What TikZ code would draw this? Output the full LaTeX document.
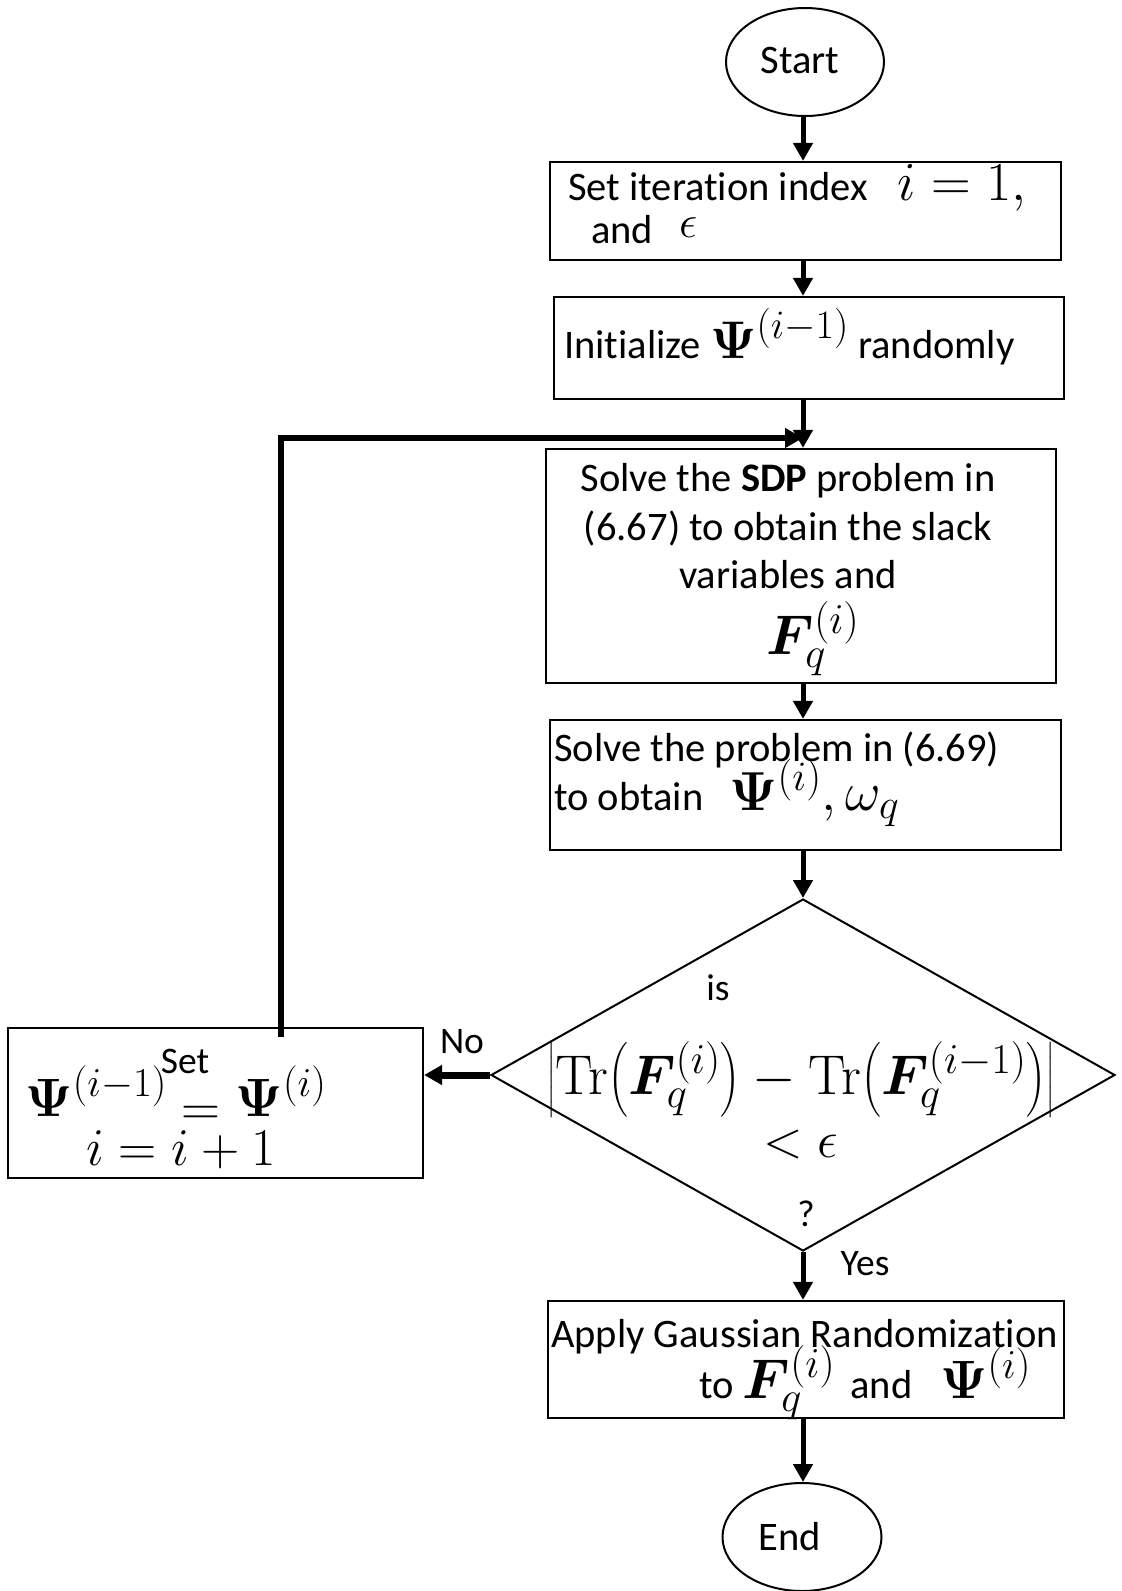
\RequirePackage{fix-cm}
\documentclass[tikz,border=0pt]{standalone}
\usepackage{amsmath,bm}
\usepackage[no-math]{fontspec}
\setmainfont{Carlito}[Ligatures={NoCommon}]
\usetikzlibrary{shapes.geometric,arrows.meta,calc}
% slightly larger sub- and superscripts
\renewcommand*\defaultscriptratio{.76}

\begin{document}
\begin{tikzpicture}[x=1pt,y=-1pt,
  box/.style={draw, rectangle, line width=2.2pt, inner sep=0pt},
  term/.style={draw, ellipse, line width=2pt, inner sep=0pt},
  cond/.style={draw, diamond, line width=2pt, inner sep=0pt},
  conn/.style={line width=5pt, -{Triangle[width=19pt,length=18pt]}},
  txt/.style={inner sep=0pt, font=\fontsize{40.5}{48.7}\selectfont},
  lbl/.style={inner sep=0pt, font=\fontsize{37.5}{45}\selectfont},
]
\useasboundingbox (0,0) rectangle (1122,1591);

% column of the main flow
\coordinate (col) at (803,0);

% terminals
\node[term, minimum width=158pt, minimum height=108pt] (start) at (805,62) {};
\node[txt] (startlbl) at (800,61) {Start};
\node[term, minimum width=159pt, minimum height=108pt] (end) at (802,1537) {};
\node[txt] (endlbl) at (790,1537) {End};

% process boxes
\node[box, minimum width=511pt, minimum height=98pt]  (b1) at (805.5,211) {};
\node[box, minimum width=510pt, minimum height=102pt] (b2) at (809,348) {};
\node[box, minimum width=510pt, minimum height=234pt] (b3) at (801,566) {};
\node[box, minimum width=511pt, minimum height=130pt] (b4) at (805.5,785) {};
\node[box, minimum width=516pt, minimum height=117pt] (b5) at (806,1359.5) {};
\node[box, minimum width=415pt, minimum height=150pt] (upd) at (215.5,1103) {};

% decision
\node[cond, minimum width=624pt, minimum height=352pt] (dec) at (803,1075) {};

% texts of the boxes
\node[txt, anchor=base west] (b1a) at (568,200)
  {Set iteration index\hspace{30pt}{\fontsize{55}{60}\selectfont$i=1,$}};
\node[txt, anchor=base west] (b1b) at (591,243)
  {and\hspace{26pt}\raisebox{6pt}{\fontsize{46}{54}\selectfont$\epsilon$}};

\node[txt, anchor=base west] (b2a) at (564,358)
  {Initialize {\fontsize{53}{56}\selectfont$\boldsymbol{\Psi}^{(i-1)}$} randomly};

\node[txt, anchor=base] (b3a) at (788,491) {Solve the \textbf{SDP} problem in};
\node[txt, anchor=base] (b3b) at (788,540) {(6.67) to obtain the slack};
\node[txt, anchor=base] (b3c) at (788,588) {variables and};
\node[txt, anchor=base, font=\fontsize{56}{60}\selectfont] (b3d) at (813,654)
  {$\bm{F}_q^{(i)}$};

\node[txt, anchor=base west] (b4a) at (554,761) {Solve the problem in (6.69)};
\node[txt, anchor=base west] (b4b) at (554,810)
  {to obtain\hspace{26pt}{\fontsize{55}{56}\selectfont$\boldsymbol{\Psi}^{(i)},\omega_q$}};

\node[lbl, anchor=base] (d1) at (718,1000) {is};
\node[txt, anchor=base, font=\fontsize{56}{60}\selectfont] (d2) at (801,1094)
  {$\bigl|\mathrm{Tr}\bigl(\bm{F}_q^{(i)}\bigr)-\mathrm{Tr}\bigl(\bm{F}_q^{(i-1)}\bigr)\bigr|$};
\node[txt, anchor=base, font=\fontsize{52}{60}\selectfont] (d3) at (801,1157) {$<\epsilon$};
\node[lbl, anchor=base] (d4) at (806,1226) {?};

\node[lbl, anchor=base] (u1) at (185,1073) {Set};
\node[txt, anchor=base, font=\fontsize{54}{60}\selectfont] (u2) at (176,1116)
  {$\boldsymbol{\Psi}^{(i-1)}\mathrel{\raisebox{-9pt}{$=$}}\boldsymbol{\Psi}^{(i)}$};
\node[txt, anchor=base, font=\fontsize{53}{60}\selectfont] (u3) at (181,1165) {$i=i+1$};

\node[txt, anchor=base west] (b5a) at (551,1347) {Apply Gaussian Randomization};
\node[txt, anchor=base west] (b5b) at (699,1398)
  {to {\fontsize{56}{60}\selectfont$\bm{F}_q^{(i)}$}\hspace{6pt} and\hspace{28pt}{\fontsize{54}{60}\selectfont$\boldsymbol{\Psi}^{(i)}$}};

% connectors of the main flow
\draw[conn] (start.south -| col) -- (b1.north -| col);
\draw[conn] (b1.south -| col) -- (b2.north -| col);
\draw[conn] (b2.south -| col) -- (b3.north -| col);
\draw[conn] (b3.south -| col) -- (b4.north -| col);
\draw[conn] (b4.south -| col) -- (dec.north -| col);
\draw[conn] (dec.south -| col) -- (b5.north -| col);
\draw[conn] (b5.south -| col) -- (end.north -| col);

% "No" branch and the loop back
\draw[conn, line width=7pt] (dec.west) -- (upd.east |- dec.west);
\node[lbl] (nolbl) at (462,1042) {No};
\node[lbl] (yeslbl) at (865,1264) {Yes};

\coordinate (loopx) at (281,0);
\coordinate (loopjoin) at (803,438);
\draw[conn, line width=6pt]
  ([yshift=-10pt]upd.north -| loopx) -- (loopx |- loopjoin) -- (loopjoin);
\end{tikzpicture}
\end{document}
